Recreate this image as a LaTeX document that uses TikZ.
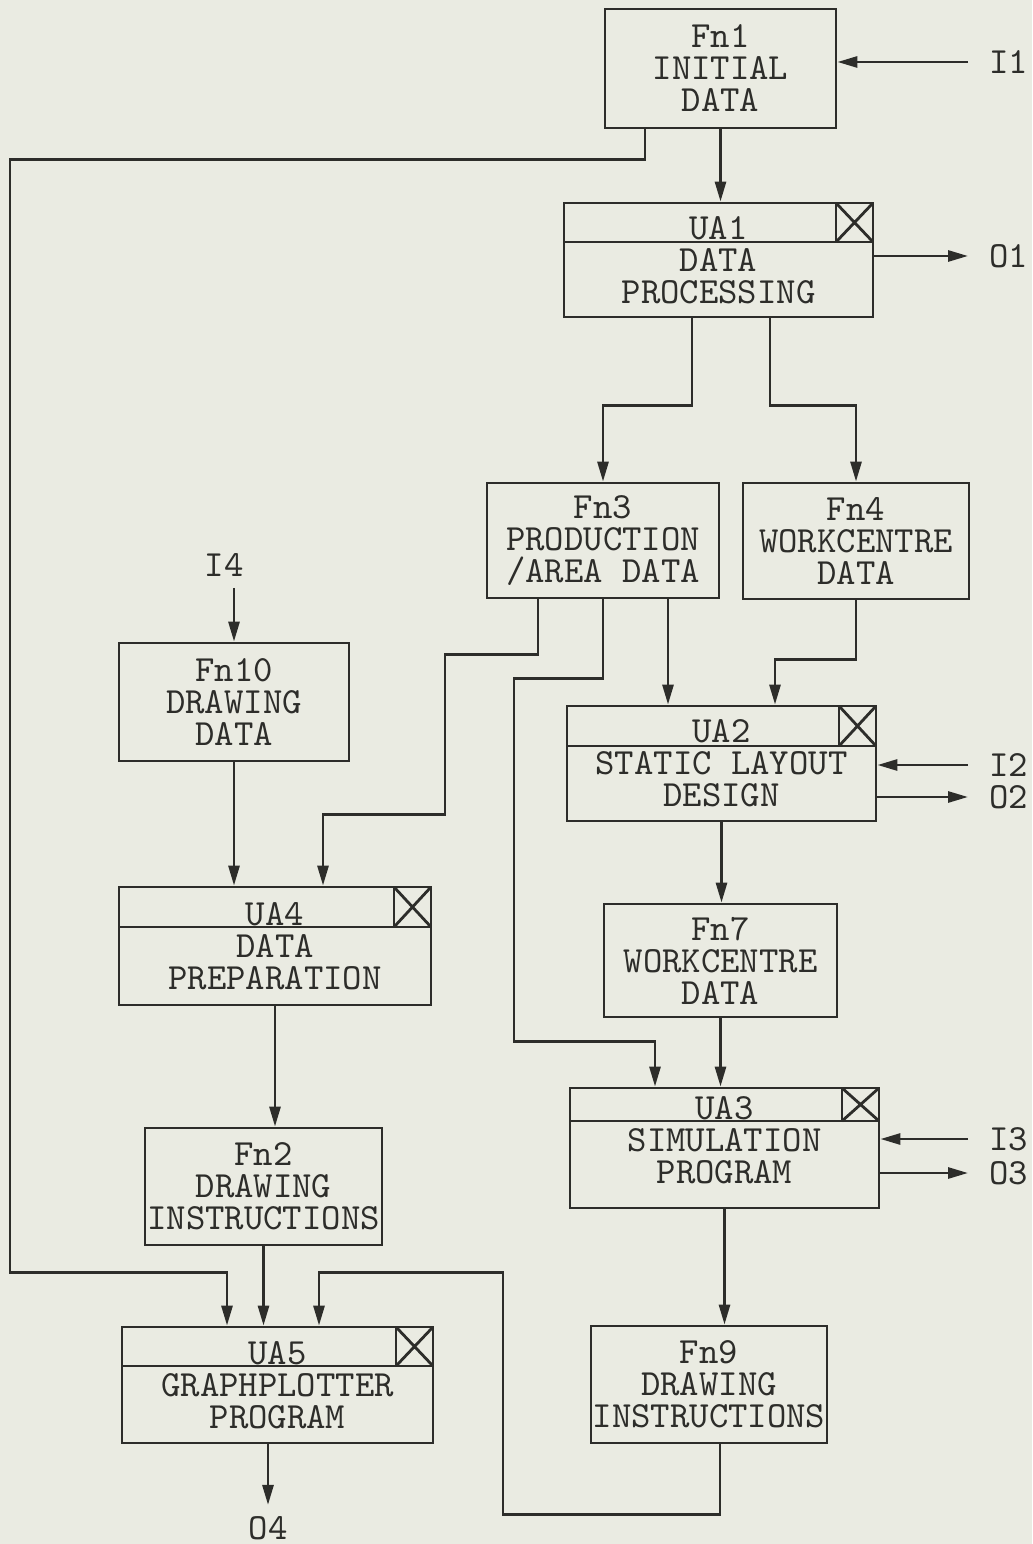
\documentclass[tikz,border=0pt]{standalone}
\usetikzlibrary{arrows.meta}
\definecolor{paper}{RGB}{234,235,226}
\definecolor{ink}{RGB}{45,45,42}
\tikzset{
  fnbox/.style={draw, rectangle, inner sep=0pt, align=center},
  uabox/.style={fnbox, path picture={
      \path (path picture bounding box.north east) coordinate (hdrNE)
            ++(-3.7mm,-#1) coordinate (hdrSW);
      \draw (hdrSW) rectangle (hdrNE);
      \draw (hdrSW) -- (hdrNE) (hdrSW |- hdrNE) -- (hdrNE |- hdrSW);
      \draw (path picture bounding box.west |- hdrSW) -- (hdrSW);
    }},
  uabox/.default=3.9mm,
  iolabel/.style={inner xsep=2mm, inner ysep=1mm},
}
\begin{document}
\begin{tikzpicture}[x=0.1mm, y=-0.1mm, line width=0.8pt, color=ink,
    >={Triangle[length=2mm, width=1.1mm]},
    font=\fontsize{10.5}{9.1}\selectfont\ttfamily]
  \fill[paper] (0,0) rectangle (1032,1544);
  \useasboundingbox (0,0) rectangle (1032,1544);

  % right column
  \node[fnbox, minimum width=23.1mm, minimum height=11.9mm] (Fn1) at (720.5,68.5) {Fn1\\INITIAL\\DATA};
  \node[uabox, minimum width=30.9mm, minimum height=11.4mm] (UA1) at (718.5,260) {UA1\\DATA\\PROCESSING};
  \node[fnbox, minimum width=23.2mm, minimum height=11.5mm] (Fn3) at (603,540.5) {Fn3\\PRODUCTION\\/AREA DATA};
  \node[fnbox, minimum width=22.6mm, minimum height=11.6mm] (Fn4) at (856,541) {Fn4\\WORKCENTRE\\DATA};
  \node[uabox=4mm, minimum width=30.9mm, minimum height=11.5mm] (UA2) at (721.5,763.5) {UA2\\STATIC LAYOUT\\DESIGN};
  \node[fnbox, minimum width=23.3mm, minimum height=11.3mm] (Fn7) at (720.5,960.5) {Fn7\\WORKCENTRE\\DATA};
  \node[uabox=3.3mm, minimum width=30.9mm, minimum height=12mm, text depth=1.6mm] (UA3) at (724.5,1148) {UA3\\SIMULATION\\PROGRAM};
  \node[fnbox, minimum width=23.6mm, minimum height=11.7mm] (Fn9) at (709,1384.5) {Fn9\\DRAWING\\INSTRUCTIONS};

  % left column
  \node[fnbox, minimum width=23mm, minimum height=11.8mm] (Fn10) at (234,702) {Fn10\\DRAWING\\DATA};
  \node[uabox=4mm, minimum width=31.2mm, minimum height=11.8mm] (UA4) at (275,946) {UA4\\DATA\\PREPARATION};
  \node[fnbox, minimum width=23.7mm, minimum height=11.7mm] (Fn2) at (263.5,1186.5) {Fn2\\DRAWING\\INSTRUCTIONS};
  \node[uabox, minimum width=31.1mm, minimum height=11.6mm] (UA5) at (277.5,1385) {UA5\\GRAPHPLOTTER\\PROGRAM};

  % inputs and outputs
  \node[iolabel, anchor=west] (I1) at (968,62) {I1};
  \node[iolabel, anchor=west] (O1) at (968,256) {O1};
  \node[iolabel, anchor=west] (I2) at (968,765) {I2};
  \node[iolabel, anchor=west] (O2) at (968,797) {O2};
  \node[iolabel, anchor=west] (I3) at (968,1139) {I3};
  \node[iolabel, anchor=west] (O3) at (968,1173) {O3};
  \node[iolabel] (I4) at (224,565) {I4};
  \node[iolabel] (O4) at (268,1528) {O4};

  \path[->]
    (Fn1.south) edge (Fn1.south |- UA1.north)
    (I1) edge (I1 -| Fn1.east)
    (O1 -| UA1.east) edge (O1)
    ([xshift=6.5mm]Fn3.south) edge ([xshift=6.5mm]Fn3.south |- UA2.north)
    (I2) edge (I2 -| UA2.east)
    (O2 -| UA2.east) edge (O2)
    (UA2.south) edge (UA2.south |- Fn7.north)
    (Fn7.south) edge (Fn7.south |- UA3.north)
    (I3) edge (I3 -| UA3.east)
    (O3 -| UA3.east) edge (O3)
    (UA3.south) edge (UA3.south |- Fn9.north)
    (I4.south -| Fn10.north) edge (Fn10.north)
    (Fn10.south) edge (Fn10.south |- UA4.north)
    (UA4.south) edge (UA4.south |- Fn2.north)
    (Fn2.south) edge (Fn2.south |- UA5.north)
    (UA5.south -| O4.north) edge (O4.north);

  \draw[->] ([xshift=-2.65mm]UA1.south) -- ++(0,87) -| (Fn3.north);
  \draw[->] ([xshift=5.15mm]UA1.south) -- ++(0,87) -| (Fn4.north);
  \draw[->] (Fn4.south) -- ++(0,59) -| ([xshift=5.35mm]UA2.north);
  \draw[->] ([xshift=-6.5mm]Fn3.south) -- ++(0,55) -- ++(-93,0) -- ++(0,160) -| ([xshift=4.8mm]UA4.north);
  \draw[->] (Fn3.south) -- ++(0,79) -- ++(-89,0) -- ++(0,363) -| ([xshift=-6.95mm]UA3.north);
  \draw[->] ([xshift=-7.55mm]Fn1.south) -- ++(0,30) -- ++(-635,0) -- ++(0,1113) -| ([xshift=-5.05mm]UA5.north);
  \draw[->] ([xshift=1.1mm]Fn9.south) -- ++(0,70) -- ++(-217,0) -- ++(0,-242) -| ([xshift=4.15mm]UA5.north);
\end{tikzpicture}
\end{document}
